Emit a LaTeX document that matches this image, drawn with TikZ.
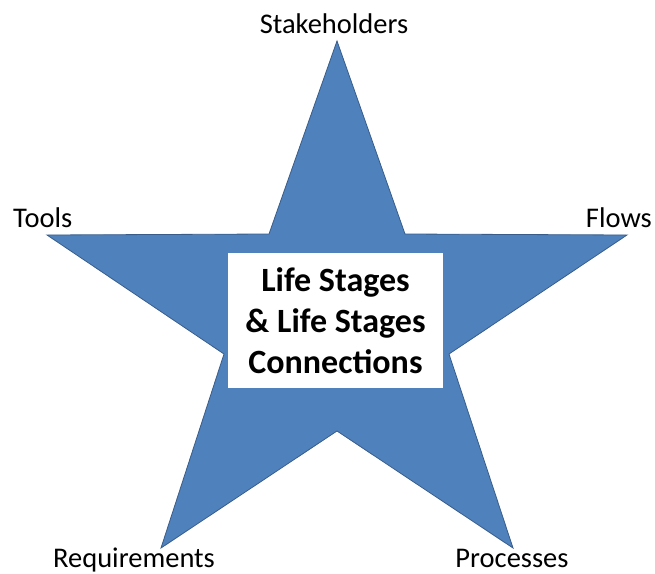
\documentclass[tikz,border=0pt]{standalone}
\usepackage{fontspec}
\setmainfont{Carlito}
\usetikzlibrary{positioning}
\definecolor{starblue}{RGB}{79,129,189}
\definecolor{staredge}{RGB}{56,93,138}
\tikzset{
  tip/.style={font=\fontsize{28.5}{32}\selectfont, inner sep=0pt},
  core/.style={fill=white, align=center, font=\bfseries\fontsize{34}{41}\selectfont, minimum width=215pt, minimum height=135pt, inner sep=0pt},
  starfill/.style={fill=starblue, draw=staredge, line width=0.8pt, line join=miter},
}

\begin{document}
\begin{tikzpicture}[x=1pt,y=-1pt]
\useasboundingbox (0,0) rectangle (655,573);
% points and inner corners of the star
\coordinate (ptop) at (337,41);
\coordinate (pright) at (627,235);
\coordinate (pleft) at (47,235);
\coordinate (pbl) at (161,548);
\coordinate (pbr) at (513,548);
\coordinate (iul) at (269,234);
\coordinate (iur) at (405,234);
\coordinate (ilr) at (449,354);
\coordinate (ill) at (224,354);
\coordinate (ibot) at (337,431);
\filldraw[starfill] (ptop) -- (iur) -- (pright) -- (ilr) -- (pbr) -- (ibot) -- (pbl) -- (ill) -- (pleft) -- (iul) -- cycle;
\node[core] (hub) at (335.5,320.5) {Life Stages\\\& Life Stages\\Connections};
% labels at the points
\node[tip, anchor=base] (stake) at (334,33) {Stakeholders};
\node[tip, anchor=base west] (tools) at (13,227) {Tools};
\node[tip, anchor=base east] (flows) at (652,227) {Flows};
\node[tip, anchor=base] (req) at (134,567) {Requirements};
\node[tip, anchor=base] (proc) at (512,567) {Processes};
\end{tikzpicture}
\end{document}
